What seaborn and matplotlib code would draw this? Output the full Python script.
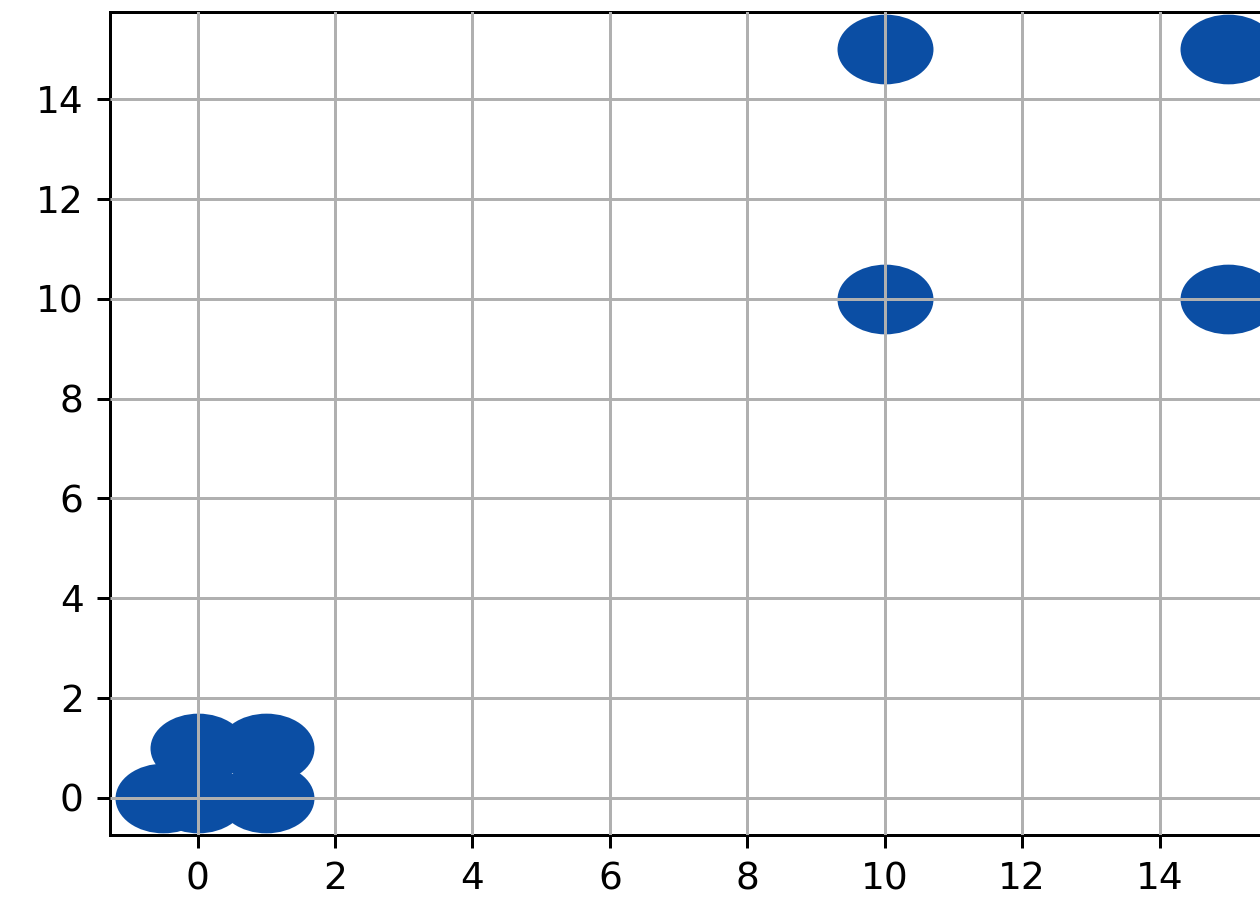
import numpy as np
import pandas as pd
import matplotlib
matplotlib.use("Agg")
import matplotlib.pyplot as plt
from matplotlib.path import Path
from matplotlib.transforms import Affine2D
import seaborn as sns

# Point coordinates
x_vals = [-0.5, 0, 1, 0, 1, 10, 10, 15, 15]
y_vals = [0, 0, 0, 1, 1, 10, 15, 10, 15]
x_ticks = [0, 2, 4, 6, 8, 10, 12, 14]
y_ticks = [0, 2, 4, 6, 8, 10, 12, 14]

df = pd.DataFrame({"x": x_vals, "y": y_vals})

# Elliptical marker, wider than tall
ellipse = Path.unit_circle().transformed(Affine2D().scale(1.377, 1.0))

DPI = 270
fig = plt.figure(figsize=(1260 / DPI, 900 / DPI), dpi=DPI)
ax = fig.add_axes([110 / 1260, 65 / 900, 1171.5 / 1260, 823 / 900])

sns.scatterplot(data=df, x="x", y="y", ax=ax, marker=ellipse, s=655,
                color="#0b4ea4", linewidth=0, legend=False, zorder=2)

ax.set_xticks(x_ticks)
ax.set_yticks(y_ticks)
ax.set_xlabel("")
ax.set_ylabel("")
ax.grid(True, color="#b0b0b0", linewidth=0.8, zorder=3)
ax.set_axisbelow(False)

fig.savefig("out.png", dpi=DPI)
